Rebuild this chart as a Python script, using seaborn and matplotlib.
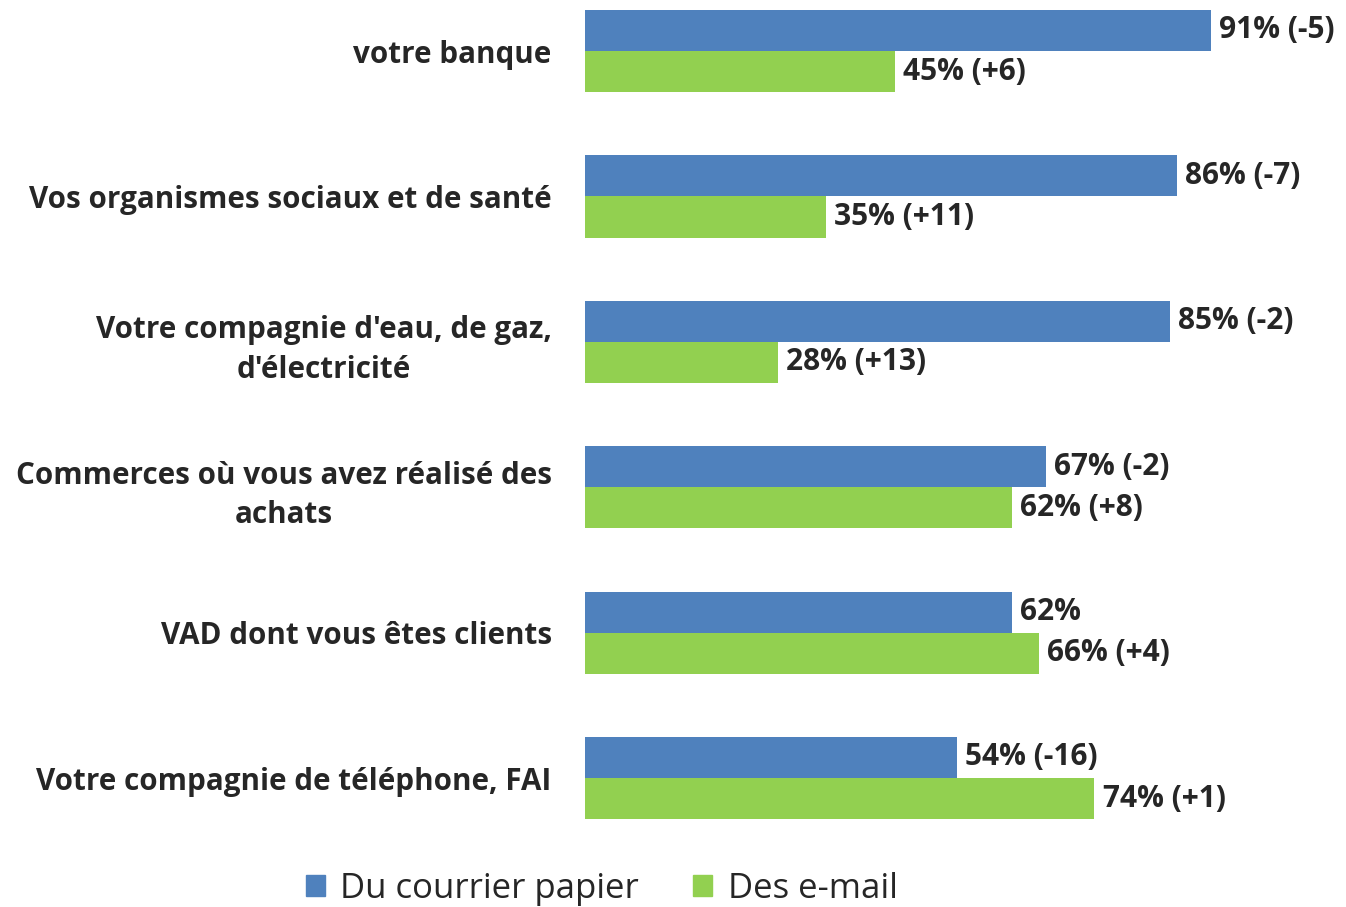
import pandas as pd
import matplotlib.pyplot as plt
import seaborn as sns
from matplotlib.patches import Patch

categories = [
    'votre banque',
    'Vos organismes sociaux et de santé',
    "Votre compagnie d'eau, de gaz,\nd'électricité",
    'Commerces où vous avez réalisé des\nachats',
    'VAD dont vous êtes clients',
    'Votre compagnie de téléphone, FAI',
]
series = ['Du courrier papier', 'Des e-mail']
paper = [91, 86, 85, 67, 62, 54]
email = [45, 35, 28, 62, 66, 74]
paper_labels = ['91% (-5)', '86% (-7)', '85% (-2)', '67% (-2)', '62%', '54% (-16)']
email_labels = ['45% (+6)', '35% (+11)', '28% (+13)', '62% (+8)', '66% (+4)', '74% (+1)']
colors = ['#4F81BD', '#92D050']

df = pd.DataFrame({
    'cat': categories * 2,
    'serie': [series[0]] * 6 + [series[1]] * 6,
    'val': paper + email,
})

sns.set_style('white')
plt.rcParams['font.family'] = ['Open Sans', 'DejaVu Sans']

fig = plt.figure(figsize=(13.46, 9.07), dpi=100)
ax = fig.add_axes([585 / 1346, 1 - 840 / 907, 1 - 585 / 1346, 840 / 907])

sns.barplot(data=df, y='cat', x='val', hue='serie', palette=colors,
            width=0.566, orient='h', ax=ax, legend=False, saturation=1,
            linewidth=0)

# value labels next to each bar
for cont, labs in zip(ax.containers, [paper_labels, email_labels]):
    ax.bar_label(cont, labels=labs, padding=6, fontsize=21.5, fontweight='bold')

ax.set_xlim(0, 110.6)
ax.set_ylim(5.426, -0.351)
ax.set_xlabel('')
ax.set_ylabel('')
ax.set_xticks([])
for s in ax.spines.values():
    s.set_visible(False)
ax.tick_params(axis='y', length=0, pad=24, labelsize=21.3)
for lab in ax.get_yticklabels():
    lab.set_fontweight('bold')
    lab.set_multialignment('center')
    lab.set_linespacing(1.4)

handles = [Patch(color=c) for c in colors]
fig.legend(handles, series, loc='center', bbox_to_anchor=(0.447, 1 - 889 / 907),
           ncol=2, frameon=False, fontsize=25, handlelength=0.55, handleheight=0.55,
           columnspacing=1.55, handletextpad=0.45)

fig.savefig('out.png', dpi=100)
